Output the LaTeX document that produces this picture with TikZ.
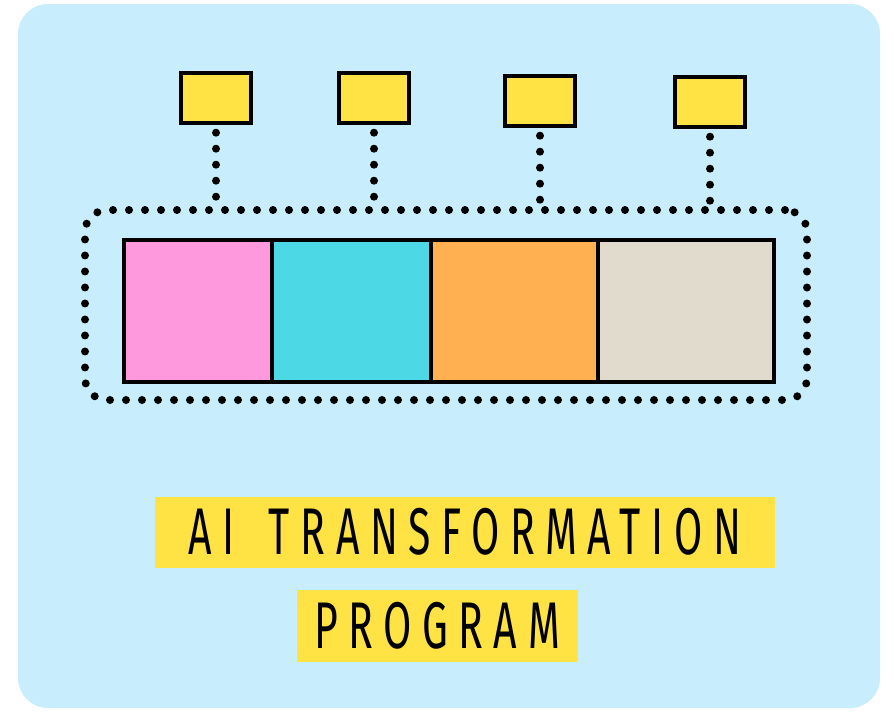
\documentclass[tikz,border=0pt]{standalone}
\usepackage{fontspec}
\usepackage{tikz}
\usetikzlibrary{positioning,calc}
\setmainfont{Fira Sans}
\newfontfamily\handfont[FakeStretch=0.62,LetterSpace=16]{Fira Sans}
\definecolor{sky}{HTML}{C8EDFC}
\definecolor{marker}{HTML}{FFE344}
\definecolor{pinkseg}{HTML}{FF99DD}
\definecolor{cyanseg}{HTML}{4DD8E5}
\definecolor{orangeseg}{HTML}{FFB152}
\definecolor{beigeseg}{HTML}{E0DBCC}
\tikzset{
  tag/.style={draw=black,line width=3.4pt,fill=marker,minimum width=70pt,
    minimum height=50pt,inner sep=0pt},
  seg/.style={draw=black,line width=3.5pt,minimum height=142pt,inner sep=0pt,outer sep=0pt},
  dots/.style={line width=8pt,line cap=round,dash pattern=on 0pt off 16pt},
  frame/.style={draw=black,dots,rounded corners=22pt,minimum width=722pt,
    minimum height=190pt,inner sep=0pt,outer sep=0pt},
  title/.style={fill=marker,inner sep=0pt,font=\handfont\fontsize{66}{70}\selectfont,
    text=black,anchor=center},
}
\begin{document}
\begin{tikzpicture}[x=1pt,y=-1pt]
  \useasboundingbox (0,0) rectangle (894,712);
  % backdrop
  \fill[sky,rounded corners=30pt] (18,4) rectangle (880,708);
  % the dotted frame round the bar
  \node[frame] (frame) at (446,305) {};
  % the bar, four segments
  \node[seg,fill=pinkseg,minimum width=148pt] (seg1) at (198,311) {};
  \node[seg,fill=cyanseg,minimum width=159pt,right=0pt of seg1] (seg2) {};
  \node[seg,fill=orangeseg,minimum width=167pt,right=0pt of seg2] (seg3) {};
  \node[seg,fill=beigeseg,minimum width=176pt,right=0pt of seg3] (seg4) {};
  % yellow tags on top
  \node[tag] (tag1) at (216,98) {};
  \node[tag] (tag2) at (374,98) {};
  \node[tag] (tag3) at (540,101) {};
  \node[tag] (tag4) at (710,102) {};
  \foreach \i in {1,...,4}
    \draw[dots] ([yshift=-8pt]tag\i.south) -- (tag\i.south |- frame.north);
  % caption
  \node[title,minimum width=620pt,minimum height=71pt] (title1) at (465,532) {AI\hspace{34pt}TRANSFORMATION};
  \node[title,minimum width=281pt,minimum height=72pt] (title2) at (437,626) {PROGRAM};
\end{tikzpicture}
\end{document}
